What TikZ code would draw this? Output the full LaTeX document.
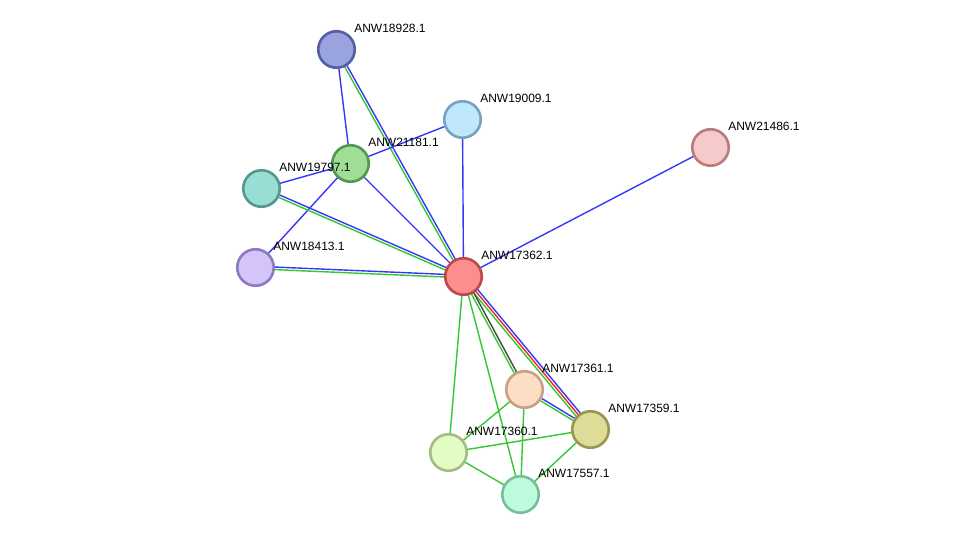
\documentclass[tikz,border=0pt]{standalone}
\usepackage{fontspec}
\setmainfont{Liberation Sans}
\usepackage{tikz}
\usetikzlibrary{calc,backgrounds}
\definecolor{azul}{RGB}{55,55,245}
\definecolor{verde}{RGB}{50,200,50}
\definecolor{vermelho}{RGB}{240,40,40}
\definecolor{cinza}{RGB}{70,70,70}
\definecolor{f18928}{RGB}{153,163,224}\definecolor{b18928}{RGB}{85,96,160}
\definecolor{f19009}{RGB}{192,232,252}\definecolor{b19009}{RGB}{120,162,192}
\definecolor{f21486}{RGB}{246,202,202}\definecolor{b21486}{RGB}{184,124,124}
\definecolor{f21181}{RGB}{160,222,150}\definecolor{b21181}{RGB}{82,152,82}
\definecolor{f19797}{RGB}{152,222,212}\definecolor{b19797}{RGB}{82,152,142}
\definecolor{f18413}{RGB}{212,196,250}\definecolor{b18413}{RGB}{142,122,192}
\definecolor{f17362}{RGB}{252,142,142}\definecolor{b17362}{RGB}{190,72,72}
\definecolor{f17361}{RGB}{252,222,196}\definecolor{b17361}{RGB}{200,160,132}
\definecolor{f17359}{RGB}{222,220,152}\definecolor{b17359}{RGB}{152,150,82}
\definecolor{f17360}{RGB}{226,252,196}\definecolor{b17360}{RGB}{162,190,132}
\definecolor{f17557}{RGB}{190,250,220}\definecolor{b17557}{RGB}{120,190,152}
\newcommand{\lig}[4]{\draw[aresta, #4] ($(#1)!#3!90:(#2)$) -- ($(#2)!#3!-90:(#1)$);}

\begin{document}
\begin{tikzpicture}[x=1pt, y=-1pt,
      prot/.style={circle, fill=f#1, draw=b#1, line width=2.6pt,
        minimum size=36.5pt, inner sep=0pt, label={[lbl]0:ANW#1.1}},
      lbl/.style={anchor=west, inner sep=0pt, font=\fontsize{12pt}{14pt}\selectfont,
        xshift=-2pt, yshift=21pt},
      aresta/.style={line width=1.4pt}]
    \useasboundingbox (0,0) rectangle (976,540);
    \node[prot=18928] (p18928) at (336.5,49.5) {};
    \node[prot=19009] (p19009) at (462.5,119.5) {};
    \node[prot=21486] (p21486) at (710.5,147.5) {};
    \node[prot=21181] (p21181) at (350.5,163.5) {};
    \node[prot=19797] (p19797) at (261.5,188.5) {};
    \node[prot=18413] (p18413) at (255.5,267.5) {};
    \node[prot=17362] (p17362) at (463.5,276.5) {};
    \node[prot=17361] (p17361) at (524.5,389.5) {};
    \node[prot=17359] (p17359) at (590.5,429.5) {};
    \node[prot=17360] (p17360) at (448.5,452.5) {};
    \node[prot=17557] (p17557) at (520.5,494.5) {};
    \begin{scope}[on background layer]
      \lig{p18928}{p21181}{0pt}{azul}
      \lig{p18928}{p17362}{1.3pt}{azul}
      \lig{p18928}{p17362}{-1.3pt}{verde}
      \lig{p19009}{p21181}{0pt}{azul}
      \lig{p19009}{p17362}{0pt}{azul}
      \lig{p21486}{p17362}{0pt}{azul}
      \lig{p21181}{p19797}{0pt}{azul}
      \lig{p21181}{p18413}{0pt}{azul}
      \lig{p21181}{p17362}{0pt}{azul}
      \lig{p19797}{p17362}{1.3pt}{azul}
      \lig{p19797}{p17362}{-1.3pt}{verde}
      \lig{p18413}{p17362}{1.3pt}{azul}
      \lig{p18413}{p17362}{-1.3pt}{verde}
      \lig{p17362}{p17359}{2.6pt}{azul}
      \lig{p17362}{p17359}{0pt}{vermelho}
      \lig{p17362}{p17359}{-2.6pt}{verde}
      \lig{p17362}{p17361}{1.3pt}{cinza}
      \lig{p17362}{p17361}{-1.3pt}{verde}
      \lig{p17362}{p17360}{0pt}{verde}
      \lig{p17362}{p17557}{0pt}{verde}
      \lig{p17361}{p17359}{1.3pt}{azul}
      \lig{p17361}{p17359}{-1.3pt}{verde}
      \lig{p17361}{p17360}{0pt}{verde}
      \lig{p17361}{p17557}{0pt}{verde}
      \lig{p17360}{p17359}{0pt}{verde}
      \lig{p17360}{p17557}{0pt}{verde}
      \lig{p17359}{p17557}{0pt}{verde}
    \end{scope}
  \end{tikzpicture}
\end{document}
